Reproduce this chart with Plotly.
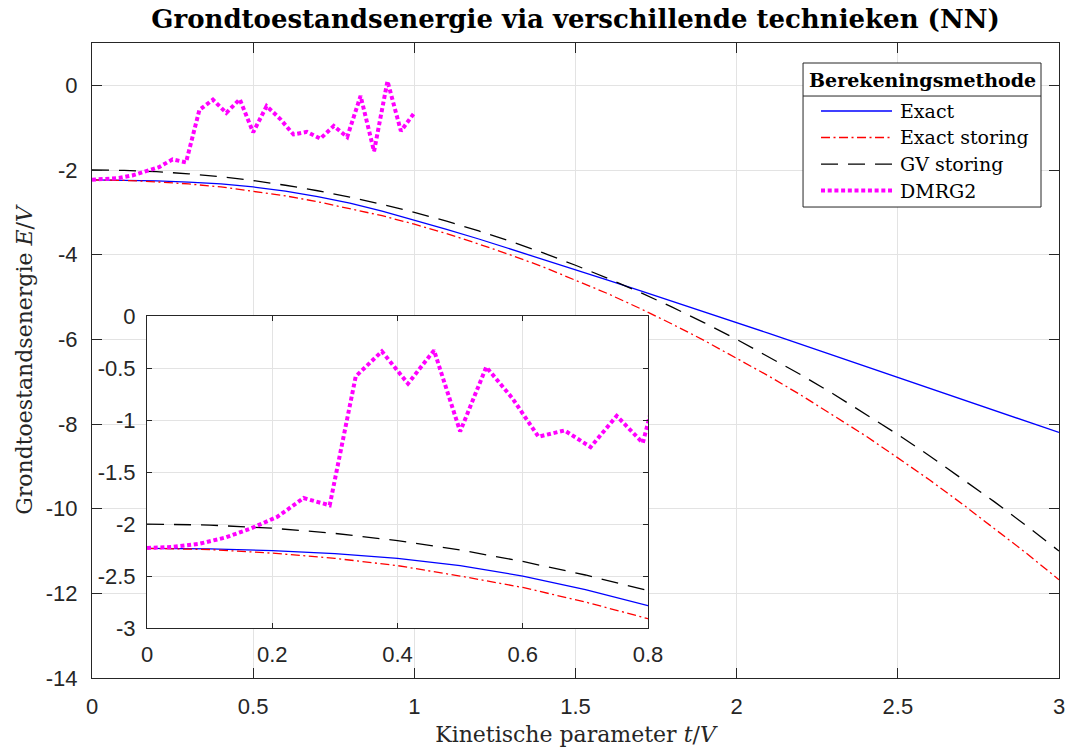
import plotly.graph_objects as go

# ---------------- data ----------------
t_grid = [0.0, 0.1, 0.2, 0.3, 0.4, 0.5, 0.6, 0.7, 0.8, 0.9, 1.0,
          1.1, 1.2, 1.3, 1.4, 1.5, 1.6, 1.7, 1.8, 1.9, 2.0,
          2.1, 2.2, 2.3, 2.4, 2.5, 2.6, 2.7, 2.8, 2.9, 3.0]

E_exact = [-2.234, -2.238, -2.256, -2.285, -2.33, -2.40, -2.50, -2.63, -2.785, -2.97, -3.18,
           -3.40, -3.63, -3.87, -4.11, -4.35, -4.60, -4.85, -5.10, -5.35, -5.60,
           -5.86, -6.12, -6.38, -6.64, -6.90, -7.16, -7.42, -7.68, -7.94, -8.20]

E_exact_storing = [-2.234, -2.245, -2.28, -2.33, -2.40, -2.50, -2.61, -2.75, -2.91, -3.08, -3.28,
                   -3.50, -3.75, -4.01, -4.29, -4.60, -4.92, -5.27, -5.64, -6.03, -6.44,
                   -6.87, -7.32, -7.79, -8.28, -8.80, -9.33, -9.89, -10.47, -11.06, -11.68]

E_gv_storing = [-2.00, -2.01, -2.04, -2.09, -2.16, -2.25, -2.36, -2.49, -2.64, -2.81, -3.00,
                -3.21, -3.44, -3.69, -3.96, -4.25, -4.56, -4.89, -5.24, -5.61, -6.00,
                -6.41, -6.84, -7.29, -7.76, -8.25, -8.76, -9.29, -9.84, -10.41, -11.00]

t_dmrg = [0.0, 0.0417, 0.0833, 0.125, 0.1667, 0.2083, 0.25, 0.2917, 0.3333, 0.375,
          0.4167, 0.4583, 0.5, 0.5417, 0.5833, 0.625, 0.6667, 0.7083, 0.75, 0.7917,
          0.8333, 0.875, 0.9167, 0.9583, 1.0]
E_dmrg = [-2.23, -2.22, -2.19, -2.13, -2.04, -1.93, -1.75, -1.82, -0.58, -0.34,
          -0.65, -0.33, -1.11, -0.49, -0.79, -1.16, -1.10, -1.26, -0.96, -1.22,
          -0.25, -1.56, 0.10, -1.08, -0.65]

series_names = ["Exact", "Exact storing", "GV storing", "DMRG2"]
legend_title = "Berekeningsmethode"

main_x_ticks = [0, 0.5, 1, 1.5, 2, 2.5, 3]
main_x_text = ["0", "0.5", "1", "1.5", "2", "2.5", "3"]
main_y_ticks = [-14, -12, -10, -8, -6, -4, -2, 0]
main_y_text = ["-14", "-12", "-10", "-8", "-6", "-4", "-2", "0"]
inset_x_ticks = [0, 0.2, 0.4, 0.6, 0.8]
inset_x_text = ["0", "0.2", "0.4", "0.6", "0.8"]
inset_y_ticks = [-3, -2.5, -2, -1.5, -1, -0.5, 0]
inset_y_text = ["-3", "-2.5", "-2", "-1.5", "-1", "-0.5", "0"]

# ---------------- styles ----------------
styles = [
    dict(color="#0000ff", width=1.3, dash="solid"),
    dict(color="#ff0000", width=1.3, dash="9px,3.5px,2px,3.5px"),
    dict(color="#000000", width=1.3, dash="17px,10px"),
    dict(color="#ff00ff", width=4, dash="4px,2.7px"),
]
series = [(t_grid, E_exact), (t_grid, E_exact_storing), (t_grid, E_gv_storing), (t_dmrg, E_dmrg)]

fig = go.Figure()
for (xs, ys), name, st in zip(series, series_names, styles):
    fig.add_trace(go.Scatter(x=xs, y=ys, mode="lines", name=name, line=st,
                             showlegend=False, xaxis="x", yaxis="y"))
for (xs, ys), name, st in zip(series, series_names, styles):
    fig.add_trace(go.Scatter(x=xs, y=ys, mode="lines", name=name, line=st,
                             showlegend=False, xaxis="x2", yaxis="y2"))

AX = "#262626"
GRID = "#e3e3e3"
TICKFONT = dict(family="Liberation Sans, Arial, sans-serif", size=22, color=AX)
SERIF = "DejaVu Serif"

common = dict(showline=True, linecolor=AX, linewidth=1, mirror="ticks",
              ticks="inside", tickcolor=AX, tickwidth=1, showgrid=True,
              gridcolor=GRID, gridwidth=1, zeroline=False, tickfont=TICKFONT)

fig.update_layout(
    width=1070, height=749,
    margin=dict(l=92, r=11, t=43, b=71, autoexpand=False),
    paper_bgcolor="white", plot_bgcolor="white",
    showlegend=False,
    title=dict(text="<b>Grondtoestandsenergie via verschillende technieken (NN)</b>",
               font=dict(family=SERIF, size=26, color="black"),
               x=0.5, xref="paper", xanchor="center",
               y=1 - 19 / 749, yref="container", yanchor="middle"),
    xaxis=dict(domain=[0, 1], range=[0, 3], anchor="y", tickvals=main_x_ticks,
               ticktext=main_x_text, ticklen=10, ticklabelstandoff=9,
               title=dict(text="Kinetische parameter <i>t</i>/<i>V</i>",
                          font=dict(family=SERIF, size=22, color=AX), standoff=8),
               automargin=False, **common),
    yaxis=dict(domain=[0, 1], range=[-14, 1], anchor="x", tickvals=main_y_ticks,
               ticktext=main_y_text, ticklen=10, ticklabelstandoff=9,
               title=dict(text="Grondtoestandsenergie <i>E</i>/<i>V</i>",
                          font=dict(family=SERIF, size=22, color=AX), standoff=7),
               automargin=False, **common),
    xaxis2=dict(domain=[0.0569, 0.575], range=[0, 0.8], anchor="y2", tickvals=inset_x_ticks,
                ticktext=inset_x_text, ticklen=5, ticklabelstandoff=7, automargin=False, **common),
    yaxis2=dict(domain=[0.0787, 0.570], range=[-3, 0], anchor="x2", tickvals=inset_y_ticks,
                ticktext=inset_y_text, ticklen=5, ticklabelstandoff=6, automargin=False, **common),
)

# ---------------- hand-drawn legend (MATLAB style, long line samples) ----------------
lx0, lx1, ly0, ly1, lsep = 0.7353, 0.9814, 0.7417, 0.9685, 0.9165
fig.add_shape(type="rect", xref="paper", yref="paper", x0=lx0, x1=lx1, y0=ly0, y1=ly1,
              line=dict(color=AX, width=1), fillcolor="white", layer="above")
fig.add_shape(type="line", xref="paper", yref="paper", x0=lx0, x1=lx1, y0=lsep, y1=lsep,
              line=dict(color=AX, width=1), layer="above")
fig.add_annotation(text="<b>" + legend_title + "</b>", xref="paper", yref="paper",
                   x=(lx0 + lx1) / 2, y=(ly1 + lsep) / 2, xanchor="center", yanchor="middle",
                   showarrow=False, font=dict(family=SERIF, size=19, color="black"))
item_y = [0.8929, 0.8512, 0.8094, 0.7677]
for name, st, yy in zip(series_names, styles, item_y):
    fig.add_shape(type="line", xref="paper", yref="paper", x0=0.7539, x1=0.8273, y0=yy, y1=yy,
                  line=dict(color=st["color"], width=st["width"], dash=st["dash"]), layer="above")
    fig.add_annotation(text=name, xref="paper", yref="paper", x=0.8335, y=yy,
                       xanchor="left", yanchor="middle", showarrow=False,
                       font=dict(family=SERIF, size=19, color="black"))

fig.write_html("out.html")
